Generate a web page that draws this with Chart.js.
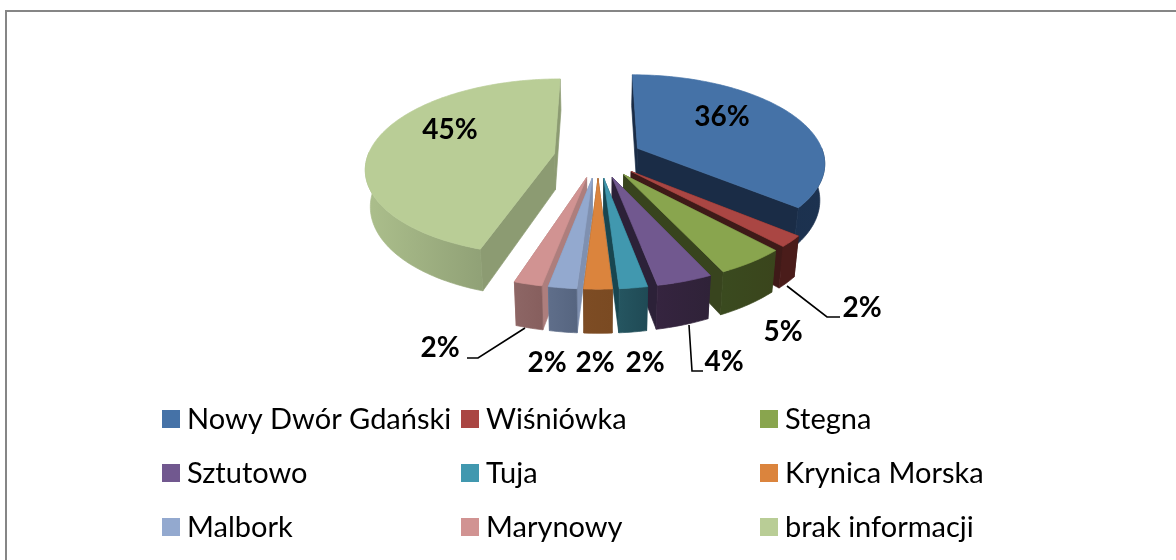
<!DOCTYPE html>
<html><head><meta charset="utf-8">
<style>html,body{margin:0;padding:0;background:#fff}#w{position:absolute;left:0;top:0;width:1176px;height:560px}</style>
<script src="https://cdn.jsdelivr.net/npm/chart.js@4"></script>
</head><body><div id="w"><canvas id="c" width="1176" height="560"></canvas></div>
<script>
const categories = ['Nowy Dwór Gdański','Wiśniówka','Stegna','Sztutowo','Tuja','Krynica Morska','Malbork','Marynowy','brak informacji'];
const values = [36,2,5,4,2,2,2,2,45];
const valueLabels = ['36%','2%','5%','4%','2%','2%','2%','2%','45%'];
const topColors = ['#4572a7','#aa4643','#89a54e','#71588f','#4198af','#db843d','#93a9cf','#d19392','#b9cd96'];
const radialColors = ['#1a2c46','#3f1a18','#38441e','#2c2138','#184650','#6b4522','#7f90b0','#ad7e7d','#8c9b72'];
const wallLeft = ['#1a2c46','#4a1c1a','#3a4a1f','#35243f','#255560','#7d4c24','#5f6e8a','#8d6665','#acbf8c'];
const wallRight = ['#1c3250','#4a1c1a','#3a451c','#2f2238','#1f4a55','#7a4a22','#566580','#875f5e','#7e8d68'];

const P = {X0:598, Y0:157, R:187, kR:87, p:0.15, explode:0.237, depth:36, q:0.0006};
const drawOrder = [0,8,1,2,3,7,6,4,5];

function project(u,v,z){
  const s = 1/(1-P.p*v);
  const sz = 1 - P.q*z;
  return [P.X0 + P.R*u*s*sz, P.Y0 + P.kR*v*s + z*s];
}
function polar(a,f,off){ // canvas angle a (0 = east), fraction f of the radius, shifted by the explosion
  return [Math.cos(a)*f+off[0], Math.sin(a)*f+off[1]];
}
function pathOf(ctx,pts){ctx.beginPath();pts.forEach((q,i)=>i?ctx.lineTo(q[0],q[1]):ctx.moveTo(q[0],q[1]));ctx.closePath();}
function paint(ctx,style){ctx.fillStyle=style;ctx.strokeStyle=style;ctx.lineWidth=0.7;ctx.fill();ctx.stroke();}

const pie3d = {
  id:'pie3d',
  beforeDatasetsDraw(chart){
    const ctx = chart.ctx, arcs = chart.getDatasetMeta(0).data;
    ctx.save();
    drawOrder.forEach(i=>{
      const el = arcs[i].getProps(['startAngle','endAngle']);
      const a0=el.startAngle, a1=el.endAngle, mid=(a0+a1)/2;
      const off=[Math.cos(mid)*P.explode, Math.sin(mid)*P.explode];
      const n=Math.max(3,Math.ceil((a1-a0)/0.02));
      const rim=[];
      for(let k=0;k<=n;k++){rim.push(polar(a0+(a1-a0)*k/n,1,off));}
      const top=(w,z)=>project(w[0],w[1],z);
      // radial faces
      [rim[0],rim[n]].forEach(w=>{
        pathOf(ctx,[top(off,0),top(w,0),top(w,P.depth),top(off,P.depth)]);
        paint(ctx,radialColors[i]);
      });
      // outer wall
      const xs=rim.map(w=>top(w,0)[0]);
      const g=ctx.createLinearGradient(Math.min(...xs),0,Math.max(...xs),0);
      g.addColorStop(0,wallLeft[i]);g.addColorStop(1,wallRight[i]);
      const front=rim.map((w,k)=>({w,a:a0+(a1-a0)*k/n})).filter(o=>Math.sin(o.a)>-0.02).map(o=>o.w);
      if(front.length>1){
        pathOf(ctx,front.map(w=>top(w,0)).concat(front.slice().reverse().map(w=>top(w,P.depth))));
        paint(ctx,g);
      }
      // top face
      pathOf(ctx,[top(off,0)].concat(rim.map(w=>top(w,0))));
      paint(ctx,topColors[i]);
    });
    ctx.restore();
    return false;
  },
  afterDraw(chart){
    const ctx=chart.ctx;
    ctx.save();
    // frame
    ctx.strokeStyle='#868686';ctx.lineWidth=2;
    ctx.beginPath();ctx.moveTo(6,561);ctx.lineTo(6,11);ctx.lineTo(1177,11);ctx.stroke();
    // leader lines
    ctx.strokeStyle='#000';ctx.lineWidth=1.6;
    LEADERS.forEach(l=>{ctx.beginPath();l.forEach((q,k)=>k?ctx.lineTo(q[0],q[1]):ctx.moveTo(q[0],q[1]));ctx.stroke();});
    // value labels
    ctx.fillStyle='#000';ctx.font='bold 28px Lato';ctx.textAlign='center';ctx.textBaseline='middle';
    valueLabels.forEach((t,i)=>ctx.fillText(t,LABEL_POS[i][0],LABEL_POS[i][1]));
    // legend
    ctx.font='29px Lato';ctx.textAlign='left';
    categories.forEach((t,i)=>{
      const x=LEG_X[i%3], y=LEG_Y[Math.floor(i/3)];
      ctx.fillStyle=topColors[i];ctx.fillRect(x,y-9,18,18);
      ctx.fillStyle='#000';ctx.fillText(t,x+25,y+1);
    });
    ctx.restore();
  }
};
const LEADERS=[[[787,286],[827,317],[840,317]],[[689,325],[692,371],[703,371]],[[525,328],[478,358],[467,358]]];
const LABEL_POS=[[722,117],[862,308],[783,332],[724,362],[645,363],[595,363],[547,363],[440,348],[450,130]];
const LEG_X=[162,461,760], LEG_Y=[419,473,527];

new Chart(document.getElementById('c'),{
  type:'pie',
  data:{labels:categories,datasets:[{data:values,backgroundColor:topColors,borderWidth:0}]},
  options:{responsive:false,animation:false,plugins:{legend:{display:false},tooltip:{enabled:false}}},
  plugins:[pie3d]
});
</script></body></html>
